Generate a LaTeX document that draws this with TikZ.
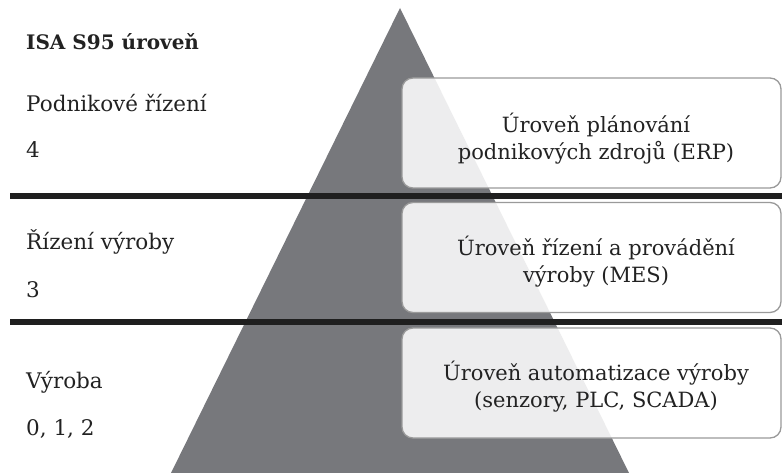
\documentclass[tikz,border=0pt]{standalone}
\usepackage{fontspec}
\setmainfont{DejaVu Serif}
\definecolor{pyr}{HTML}{77787C}
\definecolor{ink}{HTML}{222222}
\definecolor{rim}{HTML}{9A9A9A}
\begin{document}
\begin{tikzpicture}[x=1pt,y=-1pt,
  lbl/.style={anchor=base west, inner sep=0pt, text=ink, font=\fontsize{21.5}{24}\selectfont},
  sep/.style={line width=6pt, draw=ink!90!black},
  panel/.style={draw=rim, line width=1.3pt, rounded corners=11pt, fill=white, fill opacity=0.87,
                minimum width=379pt, minimum height=110pt, inner sep=0pt},
  paneltext/.style={align=center, inner sep=0pt, text=ink, font=\fontsize{21}{27}\selectfont}]
  \useasboundingbox (0,0) rectangle (782,473);

  % pyramid
  \coordinate (apex) at (400,8);
  \coordinate (bl) at (171,473);
  \coordinate (br) at (629,473);
  \fill[pyr] (apex) -- (bl) -- (br) -- cycle;

  % level separators
  \coordinate (s1a) at (10,196);
  \coordinate (s1b) at (782,196);
  \coordinate (s2a) at (10,322);
  \coordinate (s2b) at (782,322);
  \draw[sep] (s1a) -- (s1b);
  \draw[sep] (s2a) -- (s2b);

  % left column labels
  \node[lbl, font=\fontsize{20}{24}\selectfont\bfseries] (title) at (26,50) {ISA S95 úroveň};
  \node[lbl] (l4) at (26,112) {Podnikové řízení};
  \node[lbl] (n4) at (26,158) {4};
  \node[lbl] (l3) at (26,250) {Řízení výroby};
  \node[lbl] (n3) at (26,297) {3};
  \node[lbl] (l0) at (26,388) {Výroba};
  \node[lbl] (n0) at (26,435) {0, 1, 2};

  % level panels
  \node[panel] (erp) at (591.5,133) {};
  \node[panel] (mes) at (591.5,257.5) {};
  \node[panel] (aut) at (591.5,383) {};

  \node[paneltext] (erpt) at (596,139) {Úroveň plánování\\podnikových zdrojů (ERP)};
  \node[paneltext] (mest) at (596,262) {Úroveň řízení a provádění\\výroby (MES)};
  \node[paneltext] (autt) at (596,387) {Úroveň automatizace výroby\\(senzory, PLC, SCADA)};
\end{tikzpicture}
\end{document}
